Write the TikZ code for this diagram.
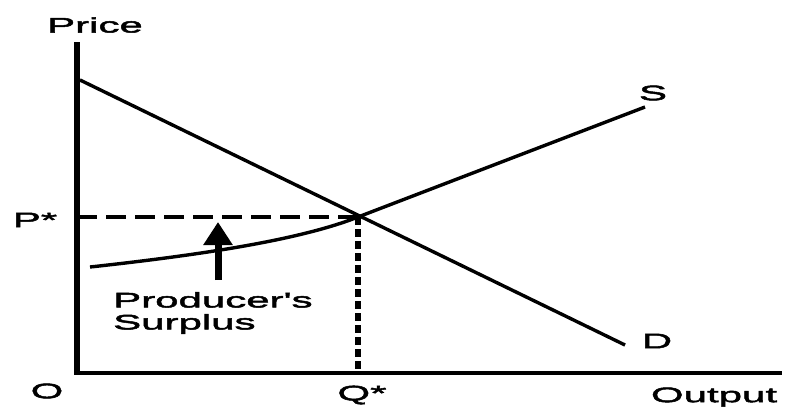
\documentclass[tikz,border=0pt]{standalone}
\usepackage{fontspec}
\newfontfamily\lbl[FakeStretch=2.0,FakeBold=2.4]{Liberation Sans}
\usetikzlibrary{arrows.meta}
\begin{document}
\begin{tikzpicture}[x=1pt,y=-1pt,
  lab/.style={font=\lbl\fontsize{21}{22}\selectfont, inner sep=0pt},
  vaxis/.style={line width=5.5pt},
  haxis/.style={line width=4pt},
  curve/.style={line width=3.4pt},
  hguide/.style={line width=3.4pt, dash pattern=on 20pt off 9pt},
  vguide/.style={line width=5.5pt, dash pattern=on 8pt off 4pt}]
\useasboundingbox (0,0) rectangle (786,408);
% key points
\coordinate (ytop) at (77,42);
\coordinate (o) at (77,373);
\coordinate (xend) at (782,373);
\coordinate (d1) at (80,80);
\coordinate (d2) at (625,345);
\coordinate (s1) at (90,267);
\coordinate (s2) at (645,107);
\coordinate (e) at (358,217);
\coordinate (pax) at (77,217);
\coordinate (qax) at (358,373);
\coordinate (arrlow) at (218,280);
\coordinate (arrhigh) at (218,222);
% axes
\draw[vaxis] (ytop) -- ([yshift=-2pt]o);
\draw[haxis] ([xshift=-2.75pt]o) -- (xend);
% guides
\draw[hguide] (pax) -- (e);
\draw[vguide] (e) -- (qax);
% demand
\draw[curve] (d1) -- (d2);
% supply
\draw[curve] (s1) .. controls (200,255) and (300,240) .. (e) -- (s2);
% arrow
\draw[line width=7pt, -{Triangle[width=28pt,length=23pt]}] (arrlow) -- (arrhigh);
% labels
\node[lab] (price) at (95,25) {Price};
\node[lab] (pstar) at (35,220) {P*};
\node[lab] (orig) at (47,391) {O};
\node[lab] (qstar) at (362,395) {Q*};
\node[lab] (output) at (714,397) {Output};
\node[lab] (slab) at (653,93) {S};
\node[lab] (dlab) at (657,341) {D};
\node[lab, anchor=west, align=left] (ps) at (113,313) {Producer's\\Surplus};
\end{tikzpicture}
\end{document}
